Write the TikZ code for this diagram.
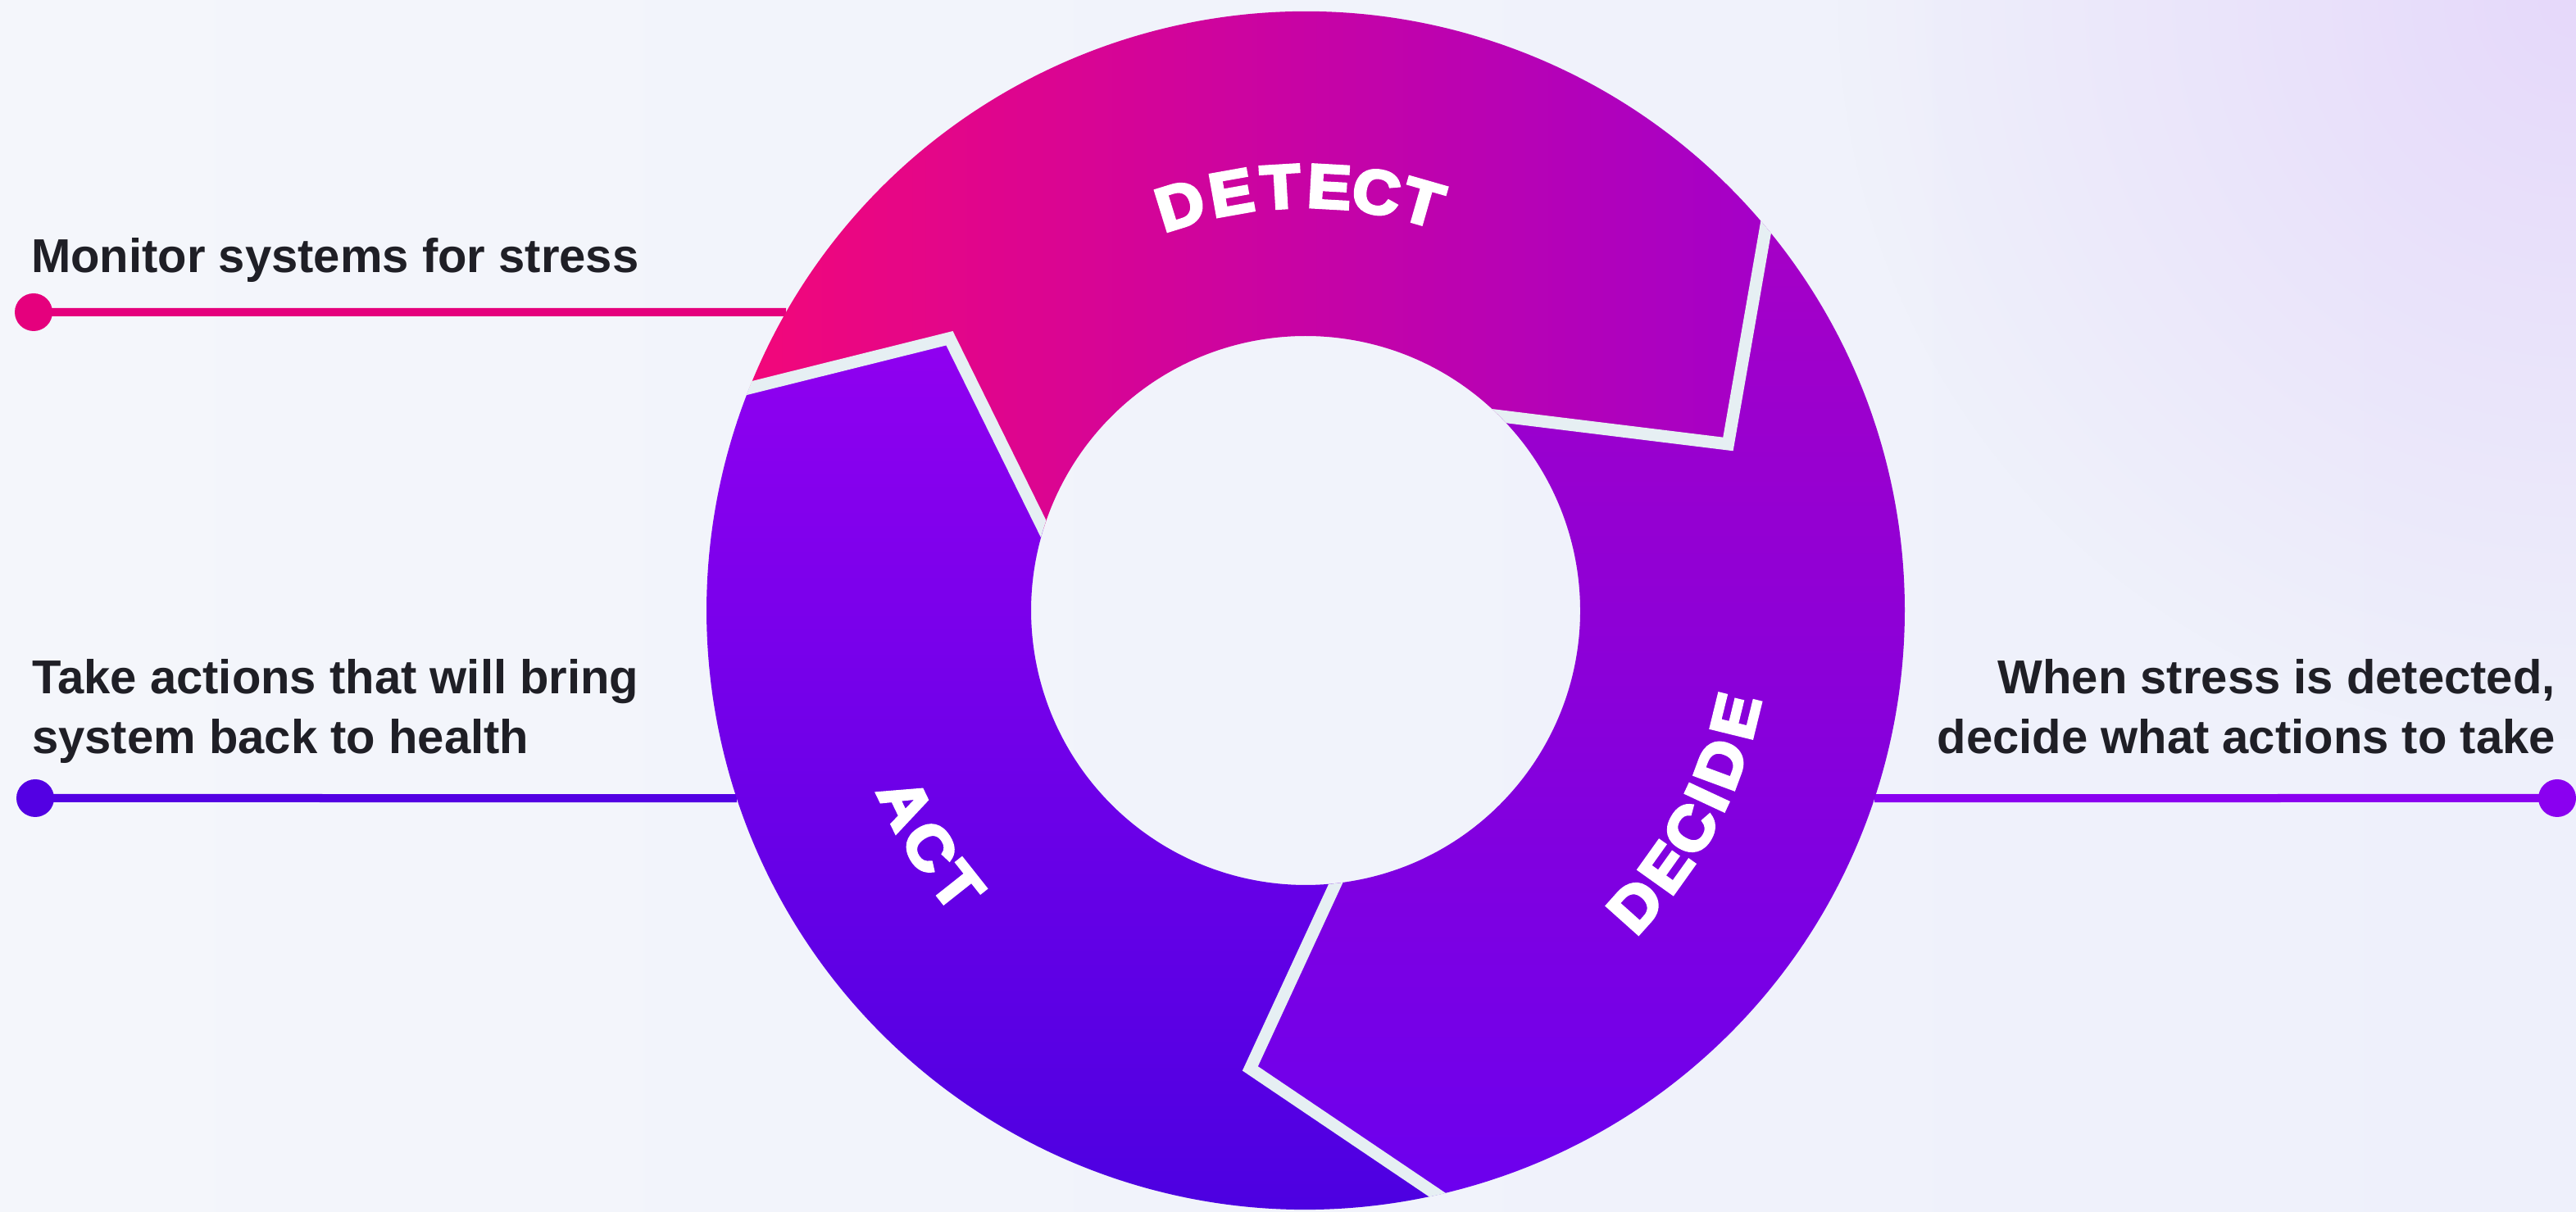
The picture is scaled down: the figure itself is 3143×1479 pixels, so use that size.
\documentclass[tikz,border=0pt]{standalone}
\usepackage{fontspec}
\setmainfont{Liberation Sans}
\newfontfamily\ringfont{Liberation Sans}[FakeBold=5]
\usetikzlibrary{calc,fadings}
\definecolor{bgL}{HTML}{F4F6FB}
\definecolor{bgR}{HTML}{EEF0FB}
\definecolor{lav}{HTML}{E4D3FA}
\definecolor{pinkc}{HTML}{E5007D}
\definecolor{actline}{HTML}{5300E3}
\definecolor{decline}{HTML}{8A00F0}
\definecolor{ink}{HTML}{1F1F26}
\definecolor{detL}{HTML}{F2077A}
\definecolor{detR}{HTML}{A400C8}
\definecolor{decT}{HTML}{A600C6}
\definecolor{decB}{HTML}{6C00EE}
\definecolor{actT}{HTML}{9000F0}
\definecolor{actB}{HTML}{4800E0}
\definecolor{gapc}{HTML}{E6EFF3}
\tikzfading[name=glowfade, inner color=transparent!20, outer color=transparent!100]
\newcommand{\ringletter}[1]{\scalebox{1.06}[1]{#1}}
\begin{document}
\begin{tikzpicture}[x=1pt,y=1pt,
  sidetext/.style={font=\fontsize{58}{73}\selectfont\bfseries, text=ink, inner sep=0pt},
  ringlabel/.style={font=\ringfont\fontsize{75}{75}\selectfont\bfseries, text=white, inner sep=0pt, anchor=base},
  gapline/.style={draw=gapc, line width=15pt, line join=miter},
  leader/.style={line width=10pt},
  enddot/.style={circle, minimum size=46pt, inner sep=0pt},
]
\useasboundingbox (0,0) rectangle (3143,1479);
% background
\shade[left color=bgL, right color=bgR] (0,0) rectangle (3143,1479);
\fill[lav, path fading=glowfade] (3143,1479) circle (900);

% geometry of the ring (centre, boundaries)
\begin{scope}[shift={(1593,734)}]
  \coordinate (ctr) at (0,0);
  \coordinate (b1o) at (158.2:731);
  \coordinate (b1v) at (142.6:547);
  \coordinate (b1i) at (162.7:335);
  \coordinate (b2o) at (39.8:731);
  \coordinate (b2v) at (21.5:554);
  \coordinate (b2i) at (45.1:335);
  \coordinate (b3o) at (-77.3:731);
  \coordinate (b3v) at (-96.9:563);
  \coordinate (b3i) at (-83.7:335);
  \coordinate (ringM) at (150.13:731);
  \coordinate (ringA) at (198.26:731);
  \coordinate (ringD) at (-18.26:731);
\end{scope}

% leader lines and end dots
\node[enddot, fill=pinkc] (dotM) at (41,1098) {};
\node[enddot, fill=actline] (dotA) at (43,505) {};
\node[enddot, fill=decline] (dotD) at (3120,505) {};
\draw[leader, pinkc] (dotM.center) -- (ringM);
\draw[leader, actline] (dotA.center) -- (ringA);
\draw[leader, decline] (dotD.center) -- (ringD);

% segments
\begin{scope}[shift={(1593,734)}]
  \shade[left color=detL, right color=detR]
    (158.2:731) arc[start angle=158.2, end angle=39.8, radius=731]
    -- (21.5:554) -- (45.1:335)
    arc[start angle=45.1, end angle=162.7, radius=335]
    -- (142.6:547) -- cycle;
  \shade[top color=decT, bottom color=decB]
    (39.8:731) arc[start angle=39.8, end angle=-77.3, radius=731]
    -- (-96.9:563) -- (-83.7:335)
    arc[start angle=-83.7, end angle=45.1, radius=335]
    -- (21.5:554) -- cycle;
  \shade[top color=actT, bottom color=actB]
    (282.7:731) arc[start angle=282.7, end angle=158.2, radius=731]
    -- (142.6:547) -- (162.7:335)
    arc[start angle=162.7, end angle=276.3, radius=335]
    -- (263.1:563) -- cycle;
  % gaps
  \begin{scope}[even odd rule]
    \clip (0,0) circle[radius=731] (0,0) circle[radius=335];
    \draw[gapline] ($(b1v)!1.2!(b1o)$) -- (b1v) -- ($(b1v)!1.2!(b1i)$);
    \draw[gapline] ($(b2v)!1.2!(b2o)$) -- (b2v) -- ($(b2v)!1.2!(b2i)$);
    \draw[gapline] ($(b3v)!1.2!(b3o)$) -- (b3v) -- ($(b3v)!1.2!(b3i)$);
  \end{scope}
  % ring labels
  \foreach \l/\a [count=\i] in {D/107.2, E/100.1, T/93.4, E/86.8, C/80.4, T/74.0}
    \node[ringlabel, rotate=\a-90] (detect\i) at (\a:492) {\ringletter{\l}};
  \foreach \l/\a [count=\i] in {D/-41.8, E/-35.5, C/-29.6, I/-25.0, D/-20.3, E/-13.8}
    \node[ringlabel, rotate=\a+90] (decide\i) at (\a:566) {\ringletter{\l}};
  \foreach \l/\a [count=\i] in {A/205.8, C/212.2, T/218.4}
    \node[ringlabel, rotate=\a+90] (act\i) at (\a:568) {\ringletter{\l}};
\end{scope}

% side texts
\node[sidetext, anchor=base west] (monitor) at (38,1146) {Monitor systems for stress};
\node[sidetext, anchor=base west, align=left] (acttext) at (39,559) {Take actions that will bring\\system back to health};
\node[sidetext, anchor=base east, align=right] (decidetext) at (3118,559) {When stress is detected,\\decide what actions to take};
\end{tikzpicture}
\end{document}
